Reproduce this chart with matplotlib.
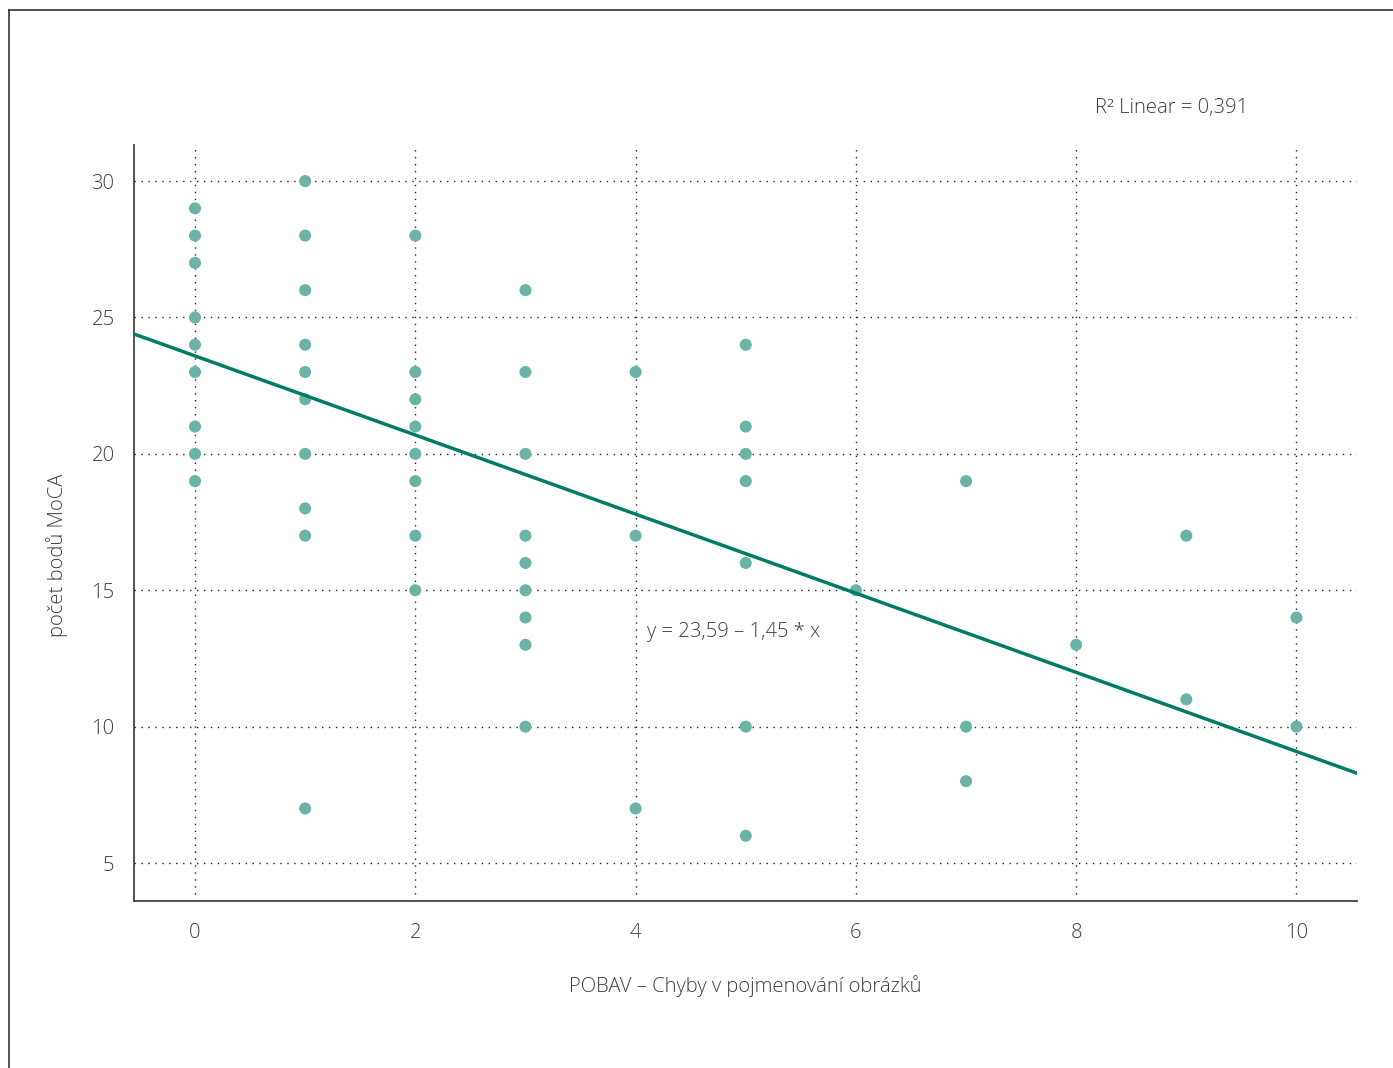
import numpy as np
import matplotlib.pyplot as plt
from matplotlib.lines import Line2D

# POBAV chyby (x) a body MoCA (y)
chyby = [0, 0, 0, 0, 0, 0, 0, 0, 0,
         1, 1, 1, 1, 1, 1, 1, 1, 1, 1,
         2, 2, 2, 2, 2, 2, 2, 2,
         3, 3, 3, 3, 3, 3, 3, 3, 3,
         4, 4, 4,
         5, 5, 5, 5, 5, 5, 5,
         6,
         7, 7, 7,
         8,
         9, 9,
         10, 10]
moca = [29, 28, 27, 25, 24, 23, 21, 20, 19,
        30, 28, 26, 24, 23, 22, 20, 18, 17, 7,
        28, 23, 22, 21, 20, 19, 17, 15,
        26, 23, 20, 17, 16, 15, 14, 13, 10,
        23, 17, 7,
        24, 21, 20, 19, 16, 10, 6,
        15,
        19, 10, 8,
        13,
        17, 11,
        14, 10]

intercept = 23.59
slope = -1.45
r2_text = "R\u00b2 Linear = 0,391"
rovnice = "y = 23,59 \u2013 1,45 * x"

x_ticks = [0, 2, 4, 6, 8, 10]
y_ticks = [5, 10, 15, 20, 25, 30]

plt.rcParams['font.family'] = ['Open Sans', 'DejaVu Sans']
plt.rcParams['font.weight'] = 'light'
plt.rcParams['axes.labelweight'] = 'light'
text_col = '#3f3f3f'
fs = 14.6

fig = plt.figure(figsize=(13.93, 10.68), dpi=100)
ax = fig.add_axes([0.0962, 0.1564, 0.878, 0.7078])

ax.set_xlim(-0.554, 10.55)
ax.set_ylim(3.61, 31.32)

ax.grid(True, linestyle=(0, (1, 4)), color='#222222', linewidth=1.0)
ax.set_axisbelow(True)

ax.scatter(chyby, moca, s=75, color='#6ab3a6', edgecolors='none', zorder=3)

xl = np.array(ax.get_xlim())
ax.plot(xl, intercept + slope * xl, color='#007b66', linewidth=2.5, zorder=4)

ax.set_xticks(x_ticks)
ax.set_yticks(y_ticks)
ax.tick_params(length=0, labelsize=fs, labelcolor=text_col)
ax.tick_params(axis='x', pad=16)
ax.tick_params(axis='y', pad=14)

for s in ['top', 'right']:
    ax.spines[s].set_visible(False)
for s in ['left', 'bottom']:
    ax.spines[s].set_color('#444444')
    ax.spines[s].set_linewidth(1.3)

ax.set_xlabel("POBAV \u2013 Chyby v pojmenování obrázků", fontsize=fs,
              color=text_col, labelpad=23, fontweight='light')
ax.set_ylabel("počet bodů MoCA", fontsize=fs, color=text_col, fontweight='light')
ax.yaxis.set_label_coords(-0.054, 0.4577)

ax.text(4.105, 13.47, rovnice, fontsize=fs, color=text_col, va='center', ha='left')
fig.text(1095 / 1393, 1 - 108 / 1068, r2_text, fontsize=fs, color=text_col,
         va='center', ha='left')

# ramecek
fig.add_artist(Line2D([9 / 1393, 1], [1 - 10 / 1068, 1 - 10 / 1068],
                      color='#333333', linewidth=1.2, transform=fig.transFigure))
fig.add_artist(Line2D([9 / 1393, 9 / 1393], [0, 1 - 10 / 1068],
                      color='#333333', linewidth=1.2, transform=fig.transFigure))

fig.savefig('out.png', dpi=100)
